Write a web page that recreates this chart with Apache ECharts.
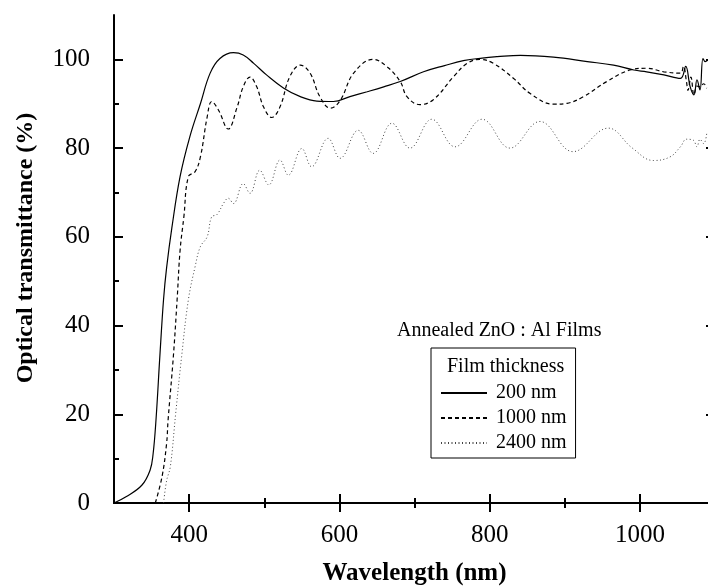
<!DOCTYPE html>
<html><head><meta charset="utf-8">
<script src="https://cdn.jsdelivr.net/npm/echarts@6/dist/echarts.min.js"></script>
<style>html,body{margin:0;padding:0;background:#fff}#c{width:708px;height:588px}</style>
</head><body><div id="c"></div>
<script>
// ---- data ----
const seriesNames = ['200 nm', '1000 nm', '2400 nm'];

const wl200 = [300,316,337,348,352,356,361,366,370,377,388,401,415,428,441,459,472,486,503,526,548,570,592,614,637,659,681,712,740,765,790,810,841,885,930,965,992,1009,1032,1054,1061,1067,1072,1076,1080,1084,1087,1091];
const t200  = [0,1.4,4,7.4,11,19,33,46,53,62,73.6,82.6,90,96.9,100.2,101.5,101,99.1,96.5,93.5,91.6,90.6,90.5,91.6,92.7,93.8,95,97.2,98.6,99.7,100.3,100.6,100.9,100.5,99.5,98.7,97.6,97.2,96.5,95.7,98.4,93.8,92,95.4,93.1,100.2,99.5,99.9];

const wl1000 = [355,364,370,372,379,384,388,393,399,408,415,424,430,439,452,464,472,481,490,499,510,521,534,548,561,574,588,601,619,645,663,681,690,707,725,752,770,787,805,832,854,885,903,925,956,987,1009,1032,1054,1058,1062,1064,1068,1072,1076,1080,1085,1089];
const t1000  = [0,6,13.4,18.7,33,45.8,57,64.5,73.6,74.7,78,87,90.5,88.6,84.3,89.3,93.8,96,93.8,89.3,86.9,89.3,96.1,98.7,96.9,91.6,89,90.7,96.9,100,98.4,95,91.6,89.8,90.9,96.1,99.1,100,99.1,95.7,92.3,89.9,90.1,91.6,95,97.6,98,97.2,96.9,98.4,95,93,96,92,94,93.8,94.5,93.5];

const wl2400 = [366,370,375,382,390,399,408,415,424,430,437,446,452,459,472,481,494,506,521,532,550,563,585,601,625,645,670,694,723,754,790,827,867,911,958,990,1018,1040,1054,1062,1071,1076,1080,1085,1089];
const t2400  = [0,5,8.2,20,33,45.8,53.3,57.8,60,64.5,65,67.6,68.7,67.5,72,69.8,75,71.7,77.3,73.9,79.9,75.8,82.2,77.7,84,78.8,85.6,80,86.5,80.3,86.5,80,86,79.2,84.5,80,77.2,78,80.3,82,81.8,80.3,82,81,83.3];

const xMajor = [400, 600, 800, 1000];
const xMinor = [500, 700, 900];
const yMajor = [0, 20, 40, 60, 80, 100];
const yMinor = [10, 30, 50, 70, 90];

const xName = 'Wavelength (nm)';
const yName = 'Optical transmittance (%)';
const noteText = 'Annealed ZnO : Al Films';
const legendTitle = 'Film thickness';

// ---- build ----
const FONT = 'Liberation Serif';
const pair = (xs, ys) => xs.map((x, i) => [x, ys[i]]);

function xAx(pos, ticks, len, labels, line, name) {
  return {
    type: 'value', min: 300, max: 1100, position: pos,
    axisLine: { show: line, lineStyle: { color: '#000', width: 2 } },
    axisTick: { show: true, inside: true, length: len, customValues: ticks, lineStyle: { color: '#000', width: 2 } },
    axisLabel: { show: labels, customValues: labels ? ticks : undefined, formatter: v => String(v), margin: 20, color: '#000', fontFamily: FONT, fontSize: 25 },
    splitLine: { show: false },
    name: name || '', nameLocation: 'middle', nameGap: 58,
    nameTextStyle: { fontFamily: FONT, fontWeight: 'bold', fontSize: 25, color: '#000' }
  };
}
function yAx(pos, ticks, len, labels, line, name) {
  return {
    type: 'value', min: 0, max: 110, position: pos,
    axisLine: { show: line, lineStyle: { color: '#000', width: 2 } },
    axisTick: { show: true, inside: true, length: len, customValues: ticks, lineStyle: { color: '#000', width: 2 } },
    axisLabel: { show: labels, customValues: labels ? ticks : undefined, formatter: v => String(v), margin: 24, color: '#000', fontFamily: FONT, fontSize: 25 },
    splitLine: { show: false },
    name: name || '', nameLocation: 'middle', nameGap: 76,
    nameTextStyle: { fontFamily: FONT, fontWeight: 'bold', fontSize: 24, color: '#000', padding: [0, 0, 0, 22] }
  };
}

const chart = echarts.init(document.getElementById('c'), null, { renderer: 'canvas' });
chart.setOption({
  animation: false,
  backgroundColor: '#fff',
  grid: { left: 114, top: 15, width: 601, height: 488, containLabel: false, outerBoundsMode: 'none' },
  title: [
    { text: noteText, left: 397, top: 321, padding: 0, textStyle: { fontFamily: FONT, fontWeight: 'normal', fontSize: 20, color: '#000' } },
    { text: legendTitle, left: 447, top: 357, padding: 0, textStyle: { fontFamily: FONT, fontWeight: 'normal', fontSize: 20, color: '#000' } }
  ],
  legend: {
    data: seriesNames,
    orient: 'vertical', left: 431, top: 348,
    padding: [35, 9, 5, 9], itemGap: 5, itemWidth: 46, itemHeight: 14,
    borderColor: '#000', borderWidth: 1, backgroundColor: '#fff',
    itemStyle: { opacity: 0 },
    textStyle: { fontFamily: FONT, fontSize: 20, color: '#000', padding: [0, 0, 0, 4] }
  },
  xAxis: [
    xAx('bottom', xMajor, 9, true, true, xName),
    xAx('bottom', xMinor, 5, false, false),
    xAx('top', xMajor, 9, false, true),
    xAx('top', xMinor, 5, false, false)
  ],
  yAxis: [
    yAx('left', yMajor, 9, true, true, yName),
    yAx('left', yMinor, 5, false, false),
    yAx('right', yMajor, 9, false, true),
    yAx('right', yMinor, 5, false, false)
  ],
  series: [
    { name: seriesNames[0], type: 'line', data: pair(wl200, t200), showSymbol: false, symbol: 'none', smooth: 0.4,
      lineStyle: { color: '#000', width: 1.2, type: 'solid' }, itemStyle: { color: '#000' } },
    { name: seriesNames[1], type: 'line', data: pair(wl1000, t1000), showSymbol: false, symbol: 'none', smooth: 0.4,
      lineStyle: { color: '#000', width: 1.2, type: [4, 3] }, itemStyle: { color: '#000' } },
    { name: seriesNames[2], type: 'line', data: pair(wl2400, t2400), showSymbol: false, symbol: 'none', smooth: 0.4,
      lineStyle: { color: '#444', width: 1, type: [1, 2.5] }, itemStyle: { color: '#444' } }
  ]
});
</script></body></html>
